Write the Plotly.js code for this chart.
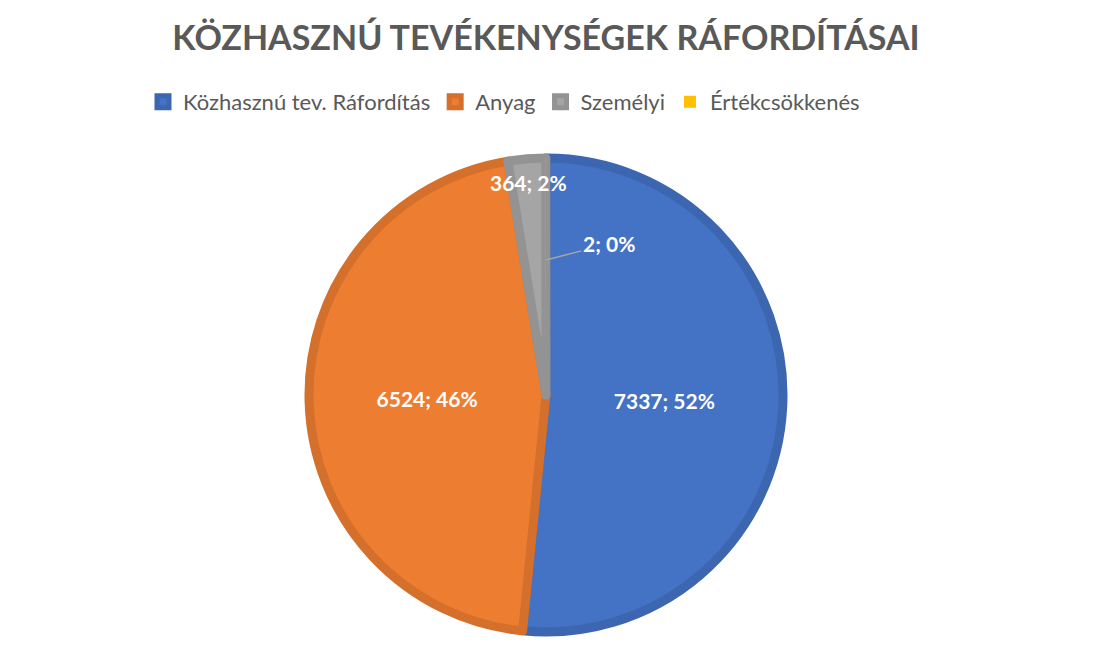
<!DOCTYPE html>
<html>
<head>
<meta charset="utf-8">
<script src="https://cdn.plot.ly/plotly-3.0.1.min.js"></script>
<style>html,body{margin:0;padding:0;background:#fff;}#chart{width:1115px;height:654px;}</style>
</head>
<body>
<div id="chart"></div>
<script>
// ---- data ----
const categories = ['Közhasznú tev. Ráfordítás', 'Anyag', 'Személyi', 'Értékcsökkenés'];
const values = [7337, 6524, 364, 2];
const percentLabels = ['52%', '46%', '2%', '0%'];
const chartTitle = 'KÖZHASZNÚ TEVÉKENYSÉGEK RÁFORDÍTÁSAI';

// ---- styles ----
const fillColors = ['#4472C4', '#ED7D31', '#A5A5A5', '#FFC000'];
const lineColors = ['#3D66B0', '#D4702B', '#939393', '#E0A800'];
const lineWidths = [9, 9, 9, 0];
const W = 1115, H = 654;
const CX = 546, CY = 395, R = 237;

const domainX = [(CX - R) / W, (CX + R) / W];
const domainY = [(H - CY - R) / H, (H - CY + R) / H];

// inside labels only for the large slices; small ones via annotations
const texts = values.map((v, i) => i < 2 ? v + '; ' + percentLabels[i] : '');

const labelFont = {family: 'Lato, sans-serif', size: 21, color: '#ffffff', weight: 700};

const trace = {
  type: 'pie',
  labels: categories,
  values: values,
  sort: false,
  direction: 'clockwise',
  rotation: 0,
  domain: {x: domainX, y: domainY},
  marker: {colors: fillColors, line: {color: lineColors, width: lineWidths}},
  text: texts,
  textinfo: 'text',
  texttemplate: '%{text}',
  textposition: 'inside',
  insidetextorientation: 'horizontal',
  insidetextfont: labelFont,
  hoverinfo: 'label+value+percent'
};

// annotation positions computed from the data (slice mid-angles)
const total = values.reduce((a, b) => a + b, 0);
function midPoint(i, frac) {
  let cum = 0;
  for (let k = 0; k < i; k++) cum += values[k];
  const theta = 2 * Math.PI * (cum + values[i] / 2) / total;
  const px = CX + frac * R * Math.sin(theta);
  const py = CY - frac * R * Math.cos(theta);
  return {x: px / W, y: 1 - py / H};
}
const p2 = midPoint(2, 0.9);
const p3 = midPoint(3, 0.57);
const annotations = [
  {xref: 'paper', yref: 'paper', x: p2.x, y: p2.y, xanchor: 'center', yanchor: 'middle',
   text: values[2] + '; ' + percentLabels[2], showarrow: false, font: labelFont},
  {xref: 'paper', yref: 'paper', x: p3.x, y: p3.y,
   text: values[3] + '; ' + percentLabels[3], showarrow: true, arrowhead: 0, arrowwidth: 1.5,
   arrowcolor: '#A5A5A5', ax: 63, ay: -16, standoff: 0, font: labelFont}
];

const layout = {
  width: W, height: H,
  margin: {l: 0, r: 0, t: 0, b: 0},
  paper_bgcolor: '#ffffff',
  title: {text: chartTitle, x: 546 / W, xanchor: 'center', y: 1 - 38 / H, yanchor: 'middle',
          font: {family: 'Lato, sans-serif', size: 34, color: '#595959', weight: 700}},
  showlegend: true,
  legend: {orientation: 'h', x: 504 / W, xanchor: 'center', y: 1 - 102 / H, yanchor: 'middle',
           font: {family: 'Lato, sans-serif', size: 22, color: '#595959'}, traceorder: 'normal'},
  annotations: annotations
};

Plotly.newPlot('chart', [trace], layout, {displayModeBar: false, staticPlot: true});
</script>
</body>
</html>
